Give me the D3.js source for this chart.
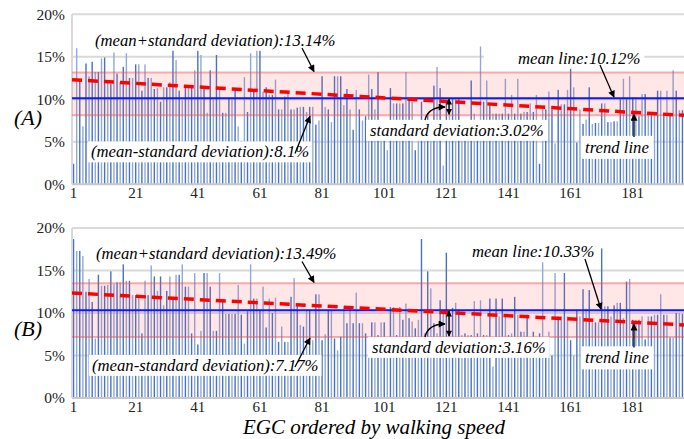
<!DOCTYPE html>
<html><head><meta charset="utf-8">
<script src="https://cdn.jsdelivr.net/npm/d3@7"></script>
<style>
html,body{margin:0;padding:0;background:#fff;}
svg{display:block;}
</style></head><body>
<svg id="chart" width="684" height="439"></svg>
<script>
// Share of each EGC record (percent), ordered by walking speed
const valuesA = [
  2.4,16.0,12.3,6.8,14.2,12.7,14.4,13.2,13.2,14.8,
  14.9,12.0,11.8,15.5,13.0,12.0,13.8,15.4,12.5,12.5,
  14.1,14.1,11.0,14.1,12.5,12.5,11.2,11.3,9.7,11.4,
  11.4,12.0,16.0,14.6,11.0,9.9,11.4,11.5,11.6,13.4,
  16.0,15.2,11.5,8.4,13.4,10.0,15.2,11.3,8.4,8.4,
  10.2,10.2,11.1,6.8,5.1,12.6,8.5,15.4,10.9,15.8,
  16.0,10.9,11.4,10.5,10.5,12.3,8.8,8.8,10.3,10.7,
  8.8,8.8,9.0,9.1,9.1,8.5,9.1,9.1,7.0,7.5,
  12.7,9.1,8.8,7.3,12.7,12.7,12.7,9.3,11.2,8.8,
  6.4,11.1,8.8,7.5,8.0,12.9,11.2,8.8,13.2,7.5,
  7.5,4.0,11.3,9.5,9.5,9.5,9.5,13.2,9.9,9.7,
  4.0,7.5,9.7,7.5,8.3,7.5,11.6,13.8,11.3,2.2,
  9.9,9.7,10.1,10.1,10.1,7.5,7.5,7.5,12.2,8.3,
  7.5,16.2,9.7,12.2,9.4,8.3,8.3,8.3,8.3,12.4,
  8.3,10.5,8.3,12.4,8.3,8.5,8.5,9.5,8.5,10.5,
  2.4,8.8,8.8,10.9,8.8,4.8,11.1,9.4,9.4,11.1,
  14.0,11.4,4.9,8.8,7.1,7.6,11.4,7.1,7.2,7.2,
  9.5,9.5,7.3,7.3,7.4,7.4,10.0,12.4,10.0,12.7,
  10.2,10.2,8.0,10.6,10.6,8.2,8.2,8.2,11.0,11.0,
  8.2,11.0,8.2,13.4,11.0,8.7,8.7
];
const valuesB = [
  18.7,17.3,17.3,16.7,12.5,14.0,11.3,7.0,14.5,13.2,
  13.2,13.3,14.9,13.4,13.6,13.6,16.0,13.8,13.8,12.1,
  12.1,12.1,7.6,13.8,12.1,15.6,14.3,12.6,14.3,10.9,
  12.6,14.3,11.9,14.5,14.5,16.0,13.1,13.1,7.6,14.7,
  6.3,7.9,14.7,14.7,13.1,7.9,7.9,14.7,11.3,9.9,
  9.9,9.9,9.9,13.3,9.8,6.4,10.2,16.0,11.7,11.7,
  10.4,13.1,8.3,11.7,10.0,11.8,6.6,8.4,6.6,6.6,
  11.9,14.1,10.9,8.6,8.4,10.4,10.4,6.8,12.2,12.2,
  6.8,7.5,10.4,10.4,7.0,5.6,7.2,10.5,8.8,10.5,
  8.8,12.4,8.8,8.8,7.6,6.5,8.9,8.9,7.4,8.9,
  8.9,6.2,10.7,10.7,7.4,10.7,9.2,11.1,9.4,9.0,
  8.2,9.2,18.7,7.6,14.9,12.9,8.8,7.6,11.5,10.4,
  17.1,9.9,10.6,11.2,10.4,7.4,7.6,7.4,7.4,11.4,
  7.6,11.5,7.4,7.4,11.7,3.7,11.7,9.6,11.7,9.6,
  7.4,7.6,11.9,9.8,7.8,7.8,9.8,5.0,7.8,5.0,
  7.6,16.3,5.0,7.8,5.0,14.7,9.6,9.6,14.7,9.6,
  6.8,5.0,10.4,9.6,12.8,10.5,12.7,8.9,8.9,8.9,
  17.6,10.8,10.8,9.6,10.9,11.2,11.2,9.4,13.7,14.0,
  9.2,9.2,9.2,9.6,6.9,9.6,9.6,9.8,9.8,12.2,
  9.8,9.8,7.1,7.1,10.0,10.0,9.9
];
const categories = d3.range(1, valuesA.length + 1);
const xTickLabels = ["1","21","41","61","81","101","121","141","161","181"];
const yTickValues = [0, 5, 10, 15, 20];

// summary statistics per panel (percent)
const meanA = 10.12, sdA = 3.02, upperA = 13.14, lowerA = 8.1;
const meanB = 10.33, sdB = 3.16, upperB = 13.49, lowerB = 7.17;
// trend line values at the first and last record
const trendA = [12.3, 8.1];
const trendB = [12.35, 8.6];

const panelNames = ["(A)", "(B)"];

const svg = d3.select("#chart");
const serif = "'Liberation Serif','Times New Roman',serif";
const left = 72, right = 684;

const x = d3.scaleBand().domain(categories).range([left, right])
  .paddingInner(0.55).paddingOuter(0.275);

// arrowheads
const defs = svg.append("defs");
defs.append("marker").attr("id", "ah").attr("viewBox", "0 0 10 10")
  .attr("refX", 9).attr("refY", 5).attr("markerWidth", 9).attr("markerHeight", 7)
  .attr("markerUnits", "userSpaceOnUse").attr("orient", "auto")
  .append("path").attr("d", "M0,0 L10,5 L0,10 Z").attr("fill", "#000");
defs.append("marker").attr("id", "ahs").attr("viewBox", "0 0 10 10")
  .attr("refX", 9).attr("refY", 5).attr("markerWidth", 8).attr("markerHeight", 6)
  .attr("markerUnits", "userSpaceOnUse").attr("orient", "auto-start-reverse")
  .append("path").attr("d", "M0,0 L10,5 L0,10 Z").attr("fill", "#000");

const layouts = [
  { top: 14.2, bottom: 184.2, values: valuesA, mean: meanA, sd: sdA, upper: upperA, lower: lowerA, trend: trendA,
    labelY: 117 },
  { top: 228, bottom: 398, values: valuesB, mean: meanB, sd: sdB, upper: upperB, lower: lowerB, trend: trendB,
    labelY: 328 }
];

function boxedText(g, txt, xLeft, yMid, size, pad) {
  const t = g.append("text").attr("x", xLeft).attr("y", yMid).attr("dy", "0.35em")
    .attr("font-family", serif).attr("font-style", "italic").attr("font-size", size)
    .attr("fill", "#000").text(txt);
  const b = t.node().getBBox();
  g.insert("rect", "text:last-of-type")
    .attr("x", b.x - pad[3]).attr("y", b.y - pad[0])
    .attr("width", b.width + pad[1] + pad[3]).attr("height", b.height + pad[0] + pad[2])
    .attr("fill", "#fff");
  return t;
}

layouts.forEach((p, pi) => {
  const y = d3.scaleLinear().domain([0, 20]).range([p.bottom, p.top]);
  const g = svg.append("g");

  // gridlines
  g.append("g").selectAll("line").data(yTickValues.filter(v => v > 0)).join("line")
    .attr("x1", left).attr("x2", right).attr("y1", d => y(d)).attr("y2", d => y(d))
    .attr("stroke", "#d9d9d9").attr("stroke-width", 2);

  // bars
  g.append("g").selectAll("rect").data(p.values).join("rect")
    .attr("x", (d, i) => x(categories[i]))
    .attr("width", x.bandwidth())
    .attr("y", d => y(d))
    .attr("height", d => y(0) - y(d))
    .attr("fill", (d, i) => i % 2 === 0 ? "#4a72c2" : "#8eaadb");

  // axis lines
  g.append("line").attr("x1", left).attr("x2", right).attr("y1", y(0)).attr("y2", y(0))
    .attr("stroke", "#c8c8c8").attr("stroke-width", 2);
  g.append("line").attr("x1", left).attr("x2", left).attr("y1", y(0)).attr("y2", y(20))
    .attr("stroke", "#d9d9d9").attr("stroke-width", 2);

  // mean ± standard deviation band
  g.append("rect").attr("x", left).attr("width", right - left)
    .attr("y", y(p.upper)).attr("height", y(p.lower) - y(p.upper))
    .attr("fill", "rgba(255,60,60,0.12)");
  [p.upper, p.lower].forEach(v => g.append("line")
    .attr("x1", left).attr("x2", right).attr("y1", y(v)).attr("y2", y(v))
    .attr("stroke", "rgba(240,80,80,0.45)").attr("stroke-width", 2));

  // mean line
  g.append("line").attr("x1", left).attr("x2", right).attr("y1", y(p.mean)).attr("y2", y(p.mean))
    .attr("stroke", "#0a1aff").attr("stroke-width", 2);

  // trend line
  const trendPts = [[categories[0], p.trend[0]], [categories[categories.length - 1], p.trend[1]]];
  const tx = d3.scaleLinear().domain([categories[0], categories[categories.length - 1]]).range([left, right]);
  g.append("path").datum(trendPts)
    .attr("d", d3.line().x(d => tx(d[0])).y(d => y(d[1])))
    .attr("fill", "none").attr("stroke", "#ff0000").attr("stroke-width", 3.5)
    .attr("stroke-dasharray", "10,6");
  const trendAt = px => y(p.trend[0] + (p.trend[1] - p.trend[0]) * (px - left) / (right - left));

  // y axis
  const ya = g.append("g").attr("transform", `translate(${left - 4},0)`)
    .call(d3.axisLeft(y).tickValues(yTickValues).tickFormat(d => d + "%").tickSize(0));
  ya.select(".domain").remove();
  ya.selectAll("text").attr("font-family", serif).attr("font-size", 15.5).attr("fill", "#222");

  // x axis
  const xa = g.append("g").attr("transform", `translate(0,${y(0) + 2})`)
    .call(d3.axisBottom(x).tickValues(xTickLabels.map(Number)).tickSize(0));
  xa.select(".domain").remove();
  xa.selectAll("text").attr("font-family", serif).attr("font-size", 15).attr("fill", "#222").attr("dy", "0.6em");

  // panel label
  g.append("text").attr("x", 28).attr("y", p.labelY).attr("dy", "0.35em")
    .attr("text-anchor", "middle").attr("font-family", serif).attr("font-style", "italic")
    .attr("font-size", 22).text(panelNames[pi]);

  // annotations
  const fs = 16.7;
  const ann = g.append("g");
  const up = `(mean+standard deviation):${p.upper}%`;
  const lo = `(mean-standard deviation):${p.lower}%`;
  const sdTxt = `standard deviation:${p.sd}%`;
  const meanTxt = `mean line:${p.mean}%`;

  const u = y(p.upper), l = y(p.lower), m = y(p.mean);
  const pos = pi === 0
    ? { up: [95, 40], lo: [91, 151.5], sd: [370, 130], mean: [518, 58], tr: [585, 147],
        meanArrow: [600, 65, 614] }
    : { up: [96, 253.5], lo: [92, 365], sd: [372, 347], mean: [472, 251.5], tr: [585, 357.5],
        meanArrow: [585, 259, 601] };

  boxedText(ann.append("g"), up, pos.up[0], pos.up[1], fs, [1, 3, 1, 3]);
  boxedText(ann.append("g"), lo, pos.lo[0], pos.lo[1], fs, [1, 3, 1, 3]);
  boxedText(ann.append("g"), sdTxt, pos.sd[0], pos.sd[1], fs, [1, 4, 1, 4]);
  boxedText(ann.append("g"), meanTxt, pos.mean[0], pos.mean[1], fs, [1, 4, 1, pi === 0 ? 34 : 4]);
  boxedText(ann.append("g"), "trend line", pos.tr[0], pos.tr[1], fs, [2, 4, 2, 4]);

  const arrow = (x1, y1, x2, y2) => ann.append("line")
    .attr("x1", x1).attr("y1", y1).attr("x2", x2).attr("y2", y2)
    .attr("stroke", "#000").attr("stroke-width", 1.3).attr("marker-end", "url(#ah)");

  arrow(302, pos.up[1] + 8, 314, u - 1);
  arrow(295, pos.lo[1] + 2, 310, l + 1);
  arrow(pos.meanArrow[0], pos.meanArrow[1], pos.meanArrow[2], m - 1);
  arrow(634, pos.tr[1] - 10, 634, trendAt(634) + 2);

  // standard deviation: double arrow between mean line and lower bound + curved pointer
  ann.append("line").attr("x1", 449).attr("x2", 449).attr("y1", m + 1).attr("y2", l - 1)
    .attr("stroke", "#000").attr("stroke-width", 1.3)
    .attr("marker-start", "url(#ahs)").attr("marker-end", "url(#ahs)");
  const sy = pos.sd[1] - 10;
  ann.append("path")
    .attr("d", `M425,${sy} Q428,${sy - 13} 445,${sy - 13}`)
    .attr("fill", "none").attr("stroke", "#000").attr("stroke-width", 1.3)
    .attr("marker-end", "url(#ah)");
});

// shared x axis title
svg.append("text").attr("x", 374).attr("y", 434.2)
  .attr("text-anchor", "middle").attr("font-family", serif).attr("font-style", "italic")
  .attr("font-size", 21).text("EGC ordered by walking speed");
</script>
</body></html>
